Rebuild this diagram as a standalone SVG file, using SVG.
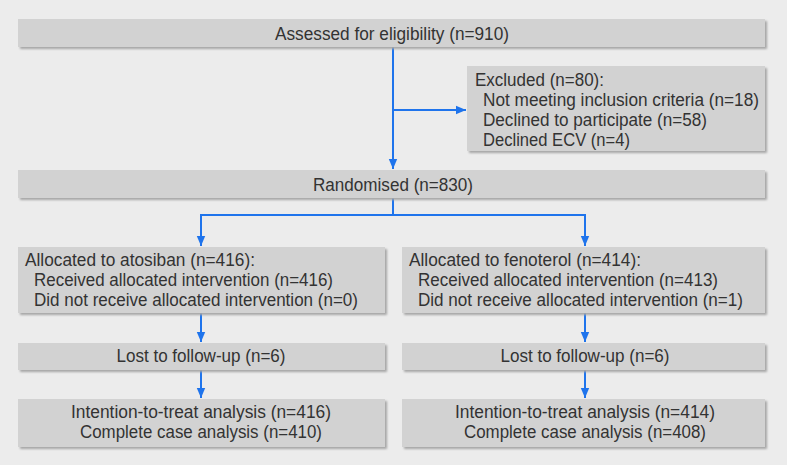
<svg xmlns="http://www.w3.org/2000/svg" width="787" height="465" viewBox="0 0 787 465">
<defs>
<style>
.bg{fill:#ececec}
.box{fill:#d2d2d2}
.sh{fill:#a6a6a6;filter:url(#blur)}
.t{font-family:"Liberation Sans",Arial,sans-serif;font-size:17.5px;fill:#333}
.c{text-anchor:middle}
.ln{stroke:#1f74ec;stroke-width:2;fill:none}
</style>
<filter id="blur" x="-5%" y="-20%" width="110%" height="140%"><feGaussianBlur stdDeviation="0.8"/></filter>
<marker id="ah" markerUnits="userSpaceOnUse" markerWidth="10" markerHeight="10" viewBox="0 0 10 10" refX="10" refY="5" orient="auto">
<path d="M0,0.8 L10,5 L0,9.2 z" fill="#1f74ec"/>
</marker>
</defs>
<rect class="bg" x="0" y="0" width="787" height="465"/>

<g id="connectors">
<path class="ln" d="M393,47 V169" marker-end="url(#ah)"/>
<path class="ln" d="M393,110 H466" marker-end="url(#ah)"/>
<path class="ln" d="M393,198 V215 M201,215 H585"/>
<path class="ln" d="M201,214 V246" marker-end="url(#ah)"/>
<path class="ln" d="M585,214 V246" marker-end="url(#ah)"/>
<path class="ln" d="M201,313 V342" marker-end="url(#ah)"/>
<path class="ln" d="M585,313 V342" marker-end="url(#ah)"/>
<path class="ln" d="M201,370 V398" marker-end="url(#ah)"/>
<path class="ln" d="M585,370 V398" marker-end="url(#ah)"/>
</g>

<g id="assessed">
<rect class="sh" x="20" y="21" width="747" height="28"/>
<rect class="box" x="18" y="19" width="747" height="28"/>
<text class="t c" x="392" y="39.5" textLength="234" lengthAdjust="spacingAndGlyphs">Assessed for eligibility (n=910)</text>
</g>

<g id="excluded">
<rect class="sh" x="469" y="68" width="298" height="85"/>
<rect class="box" x="467" y="66" width="298" height="85"/>
<text class="t" x="475" y="86" textLength="129" lengthAdjust="spacingAndGlyphs">Excluded (n=80):</text>
<text class="t" x="483" y="106" textLength="276" lengthAdjust="spacingAndGlyphs">Not meeting inclusion criteria (n=18)</text>
<text class="t" x="483" y="126" textLength="224" lengthAdjust="spacingAndGlyphs">Declined to participate (n=58)</text>
<text class="t" x="483" y="146" textLength="147" lengthAdjust="spacingAndGlyphs">Declined ECV (n=4)</text>
</g>

<g id="randomised">
<rect class="sh" x="20" y="172" width="747" height="28"/>
<rect class="box" x="18" y="170" width="747" height="28"/>
<text class="t c" x="393" y="190.5" textLength="160" lengthAdjust="spacingAndGlyphs">Randomised (n=830)</text>
</g>

<g id="atosiban">
<rect class="sh" x="20" y="249" width="367" height="66"/>
<rect class="box" x="18" y="247" width="367" height="66"/>
<text class="t" x="25" y="265.5" textLength="230" lengthAdjust="spacingAndGlyphs">Allocated to atosiban (n=416):</text>
<text class="t" x="34" y="285.5" textLength="299" lengthAdjust="spacingAndGlyphs">Received allocated intervention (n=416)</text>
<text class="t" x="34" y="305.5" textLength="324" lengthAdjust="spacingAndGlyphs">Did not receive allocated intervention (n=0)</text>
</g>

<g id="fenoterol">
<rect class="sh" x="404" y="249" width="363" height="66"/>
<rect class="box" x="402" y="247" width="363" height="66"/>
<text class="t" x="409" y="265.5" textLength="232" lengthAdjust="spacingAndGlyphs">Allocated to fenoterol (n=414):</text>
<text class="t" x="418" y="285.5" textLength="300" lengthAdjust="spacingAndGlyphs">Received allocated intervention (n=413)</text>
<text class="t" x="418" y="305.5" textLength="325" lengthAdjust="spacingAndGlyphs">Did not receive allocated intervention (n=1)</text>
</g>

<g id="lost-left">
<rect class="sh" x="20" y="345" width="367" height="27"/>
<rect class="box" x="18" y="343" width="367" height="27"/>
<text class="t c" x="201" y="362" textLength="169" lengthAdjust="spacingAndGlyphs">Lost to follow-up (n=6)</text>
</g>

<g id="lost-right">
<rect class="sh" x="404" y="345" width="363" height="27"/>
<rect class="box" x="402" y="343" width="363" height="27"/>
<text class="t c" x="585" y="362" textLength="169" lengthAdjust="spacingAndGlyphs">Lost to follow-up (n=6)</text>
</g>

<g id="analysis-left">
<rect class="sh" x="20" y="401" width="367" height="48"/>
<rect class="box" x="18" y="399" width="367" height="48"/>
<text class="t c" x="201" y="418" textLength="260" lengthAdjust="spacingAndGlyphs">Intention-to-treat analysis (n=416)</text>
<text class="t c" x="201" y="438" textLength="242" lengthAdjust="spacingAndGlyphs">Complete case analysis (n=410)</text>
</g>

<g id="analysis-right">
<rect class="sh" x="404" y="401" width="363" height="48"/>
<rect class="box" x="402" y="399" width="363" height="48"/>
<text class="t c" x="585" y="418" textLength="260" lengthAdjust="spacingAndGlyphs">Intention-to-treat analysis (n=414)</text>
<text class="t c" x="585" y="438" textLength="242" lengthAdjust="spacingAndGlyphs">Complete case analysis (n=408)</text>
</g>
</svg>
